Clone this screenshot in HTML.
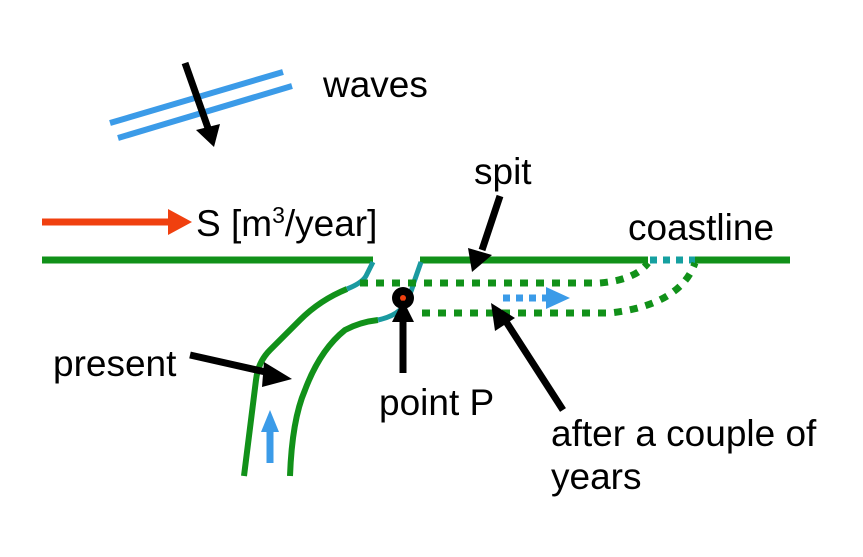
<!DOCTYPE html>
<html><head><meta charset="utf-8"><style>html,body{margin:0;padding:0;background:#fff}svg{display:block}text{font-family:"Liberation Sans",Arial,sans-serif;font-size:37px;fill:#000}</style></head>
<body>
<svg width="863" height="557" viewBox="0 0 863 557" xmlns="http://www.w3.org/2000/svg">
<!-- waves -->
<line x1="110" y1="123" x2="283" y2="72" stroke="#3b9be8" stroke-width="6"/>
<line x1="118" y1="138" x2="292" y2="86" stroke="#3b9be8" stroke-width="6"/>
<line x1="185" y1="63" x2="208" y2="128" stroke="#000" stroke-width="7"/>
<polygon points="196,130 220,124 214,147" fill="#000"/>
<text x="323" y="97">waves</text>
<!-- S arrow -->
<line x1="42" y1="222" x2="170" y2="222" stroke="#f0400f" stroke-width="7"/>
<polygon points="168,209 192,222 168,235" fill="#f0400f"/>
<text x="196" y="236">S [m<tspan font-size="23" dy="-13">3</tspan><tspan dy="13">/year]</tspan></text>
<text x="474" y="184">spit</text>
<text x="628" y="240">coastline</text>
<!-- coastline -->
<line x1="42" y1="260" x2="373" y2="260" stroke="#119119" stroke-width="7"/>
<line x1="420" y1="260" x2="648" y2="260" stroke="#119119" stroke-width="7"/>
<line x1="650" y1="260" x2="695" y2="260" stroke="#15a0a0" stroke-width="7" stroke-dasharray="7,6"/>
<line x1="695" y1="260" x2="790" y2="260" stroke="#119119" stroke-width="7"/>
<!-- present curves -->
<path d="M244,476 L256,380 Q258,362 270,350 Q285,335 300,320 Q320,300 347,289" fill="none" stroke="#119119" stroke-width="6"/>
<path d="M347,289 Q362,283 366,276 L373,262" fill="none" stroke="#1a9aa0" stroke-width="5"/>
<path d="M290,476 Q292,420 305,390 Q320,350 345,330 Q360,322 378,320" fill="none" stroke="#119119" stroke-width="6"/>
<path d="M378,320 Q392,317 400,310 Q410,298 414,282 L421,262" fill="none" stroke="#1a9aa0" stroke-width="5"/>
<!-- dotted spit -->
<path d="M360,283 L600,283 Q635,280 648,263" fill="none" stroke="#119119" stroke-width="7" stroke-dasharray="8,8"/>
<path d="M422,313 L610,313 Q680,305 695,263" fill="none" stroke="#119119" stroke-width="7" stroke-dasharray="8,8"/>
<!-- blue dotted arrow -->
<line x1="503" y1="298" x2="547" y2="298" stroke="#3b9be8" stroke-width="7" stroke-dasharray="7,6"/>
<polygon points="546,287 570,298 546,309" fill="#3b9be8"/>
<!-- point P -->
<circle cx="403" cy="298" r="11" fill="#000"/>
<circle cx="403" cy="298" r="3" fill="#f0400f"/>
<line x1="403" y1="373" x2="403" y2="318" stroke="#000" stroke-width="7"/>
<polygon points="392,322 403,300 414,322" fill="#000"/>
<text x="379" y="415">point P</text>
<!-- spit arrow -->
<line x1="500" y1="196" x2="482" y2="250" stroke="#000" stroke-width="7"/>
<polygon points="468,248 472,272 492,255" fill="#000"/>
<!-- after arrow -->
<line x1="563" y1="410" x2="505" y2="320" stroke="#000" stroke-width="7"/>
<polygon points="491,303 495,331 515,318" fill="#000"/>
<text x="551" y="446">after a couple of</text>
<text x="551" y="489">years</text>
<!-- present arrow -->
<line x1="190" y1="355" x2="270" y2="373" stroke="#000" stroke-width="7"/>
<polygon points="264,362 292,379 262,387" fill="#000"/>
<text x="53" y="376">present</text>
<!-- blue up arrow -->
<line x1="270" y1="463" x2="270" y2="430" stroke="#3b9be8" stroke-width="7"/>
<polygon points="261,432 270,410 279,432" fill="#3b9be8"/>
</svg>
</body></html>
